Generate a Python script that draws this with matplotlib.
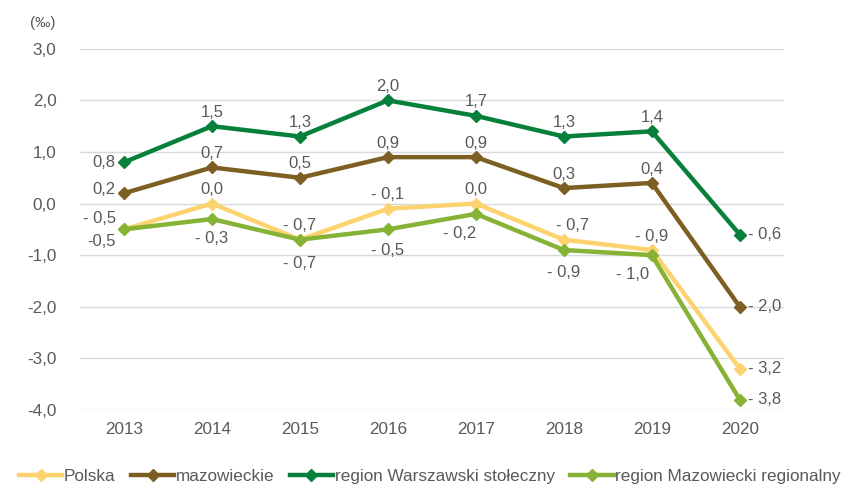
import matplotlib.pyplot as plt

plt.rcParams['font.family'] = ['Liberation Sans', 'DejaVu Sans']

years = ['2013', '2014', '2015', '2016', '2017', '2018', '2019', '2020']

polska = [-0.5, 0.0, -0.7, -0.1, 0.0, -0.7, -0.9, -3.2]
mazowieckie = [0.2, 0.7, 0.5, 0.9, 0.9, 0.3, 0.4, -2.0]
warszawski = [0.8, 1.5, 1.3, 2.0, 1.7, 1.3, 1.4, -0.6]
mazowiecki_reg = [-0.5, -0.3, -0.7, -0.5, -0.2, -0.9, -1.0, -3.8]

names = ['Polska', 'mazowieckie', 'region Warszawski stołeczny', 'region Mazowiecki regionalny']
colors = ['#FDD36F', '#7E5F23', '#06803A', '#86B335']

# label offsets (points) per series and year; |dx| > 15 means side label
off_pol = [(-22, 8), (0, 10), (0, 10), (0, 10), (0, 10), (6, 10), (0, 10), (22, 0)]
off_maz = [(-22, 3), (0, 10), (0, 10), (0, 10), (0, 10), (0, 10), (0, 10), (22, 0)]
off_war = [(-22, 0), (0, 10), (0, 10), (0, 10), (0, 10), (0, 10), (0, 10), (22, 0)]
off_reg = [(-22, -9), (0, -14), (0, -17), (0, -15), (-12, -14), (0, -16), (-14, -14), (22, 0)]


def fmt(v, sign_space=True):
    s = ('%.1f' % abs(v)).replace('.', ',')
    if v < 0:
        return ('- ' if sign_space else '-') + s
    return s


fig = plt.figure(figsize=(8.51, 4.88), dpi=100)
ax = fig.add_axes([0.094, 0.160, 0.827, 0.740])

x = list(range(len(years)))
series = [polska, mazowieckie, warszawski, mazowiecki_reg]
offsets = [off_pol, off_maz, off_war, off_reg]

for ser, name, c in zip(series, names, colors):
    ax.plot(x, ser, color=c, lw=3.2, marker='D', markersize=6.5, label=name, zorder=3)

for si, (ser, offs) in enumerate(zip(series, offsets)):
    for i, (v, o) in enumerate(zip(ser, offs)):
        txt = fmt(v, sign_space=not (si == 3 and i == 0))
        ha = 'center'
        if o[0] > 15:
            ha = 'left'
            o = (6, o[1])
        elif o[0] < -15:
            ha = 'right'
            o = (-6, o[1])
        ax.annotate(txt, (i, v), xytext=o, textcoords='offset points',
                    ha=ha, va='center', fontsize=12, color='#595959')

ax.set_xlim(-0.5, len(years) - 0.5)
ax.set_ylim(-4.0, 3.0)
yt = [3, 2, 1, 0, -1, -2, -3, -4]
ax.set_yticks(yt)
ax.set_yticklabels([('%.1f' % t).replace('.', ',') for t in yt])
ax.set_xticks(x)
ax.set_xticklabels(years)
ax.tick_params(length=0, labelsize=12.3, labelcolor='#595959')
ax.tick_params(axis='x', pad=9)
ax.tick_params(axis='y', pad=17)
ax.grid(axis='y', color='#D9D9D9', lw=1)
ax.set_axisbelow(True)
for s in ax.spines.values():
    s.set_visible(False)

fig.text(0.035, 0.953, '(‰)', fontsize=11, color='#595959', ha='left', va='center')

fig.legend(loc='center', bbox_to_anchor=(0.505, 0.024), ncol=4, frameon=False,
           fontsize=12.3, labelcolor='#595959', handlelength=2.55, handletextpad=0.08,
           columnspacing=0.9, borderaxespad=0, borderpad=0)

fig.savefig('out.png', dpi=100)
